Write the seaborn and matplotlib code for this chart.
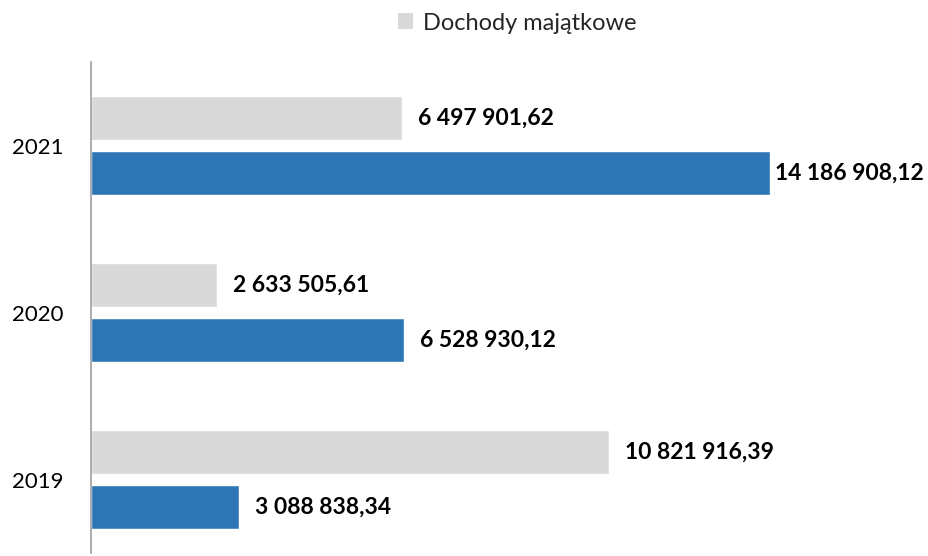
import matplotlib
matplotlib.use("Agg")
import matplotlib.pyplot as plt
import seaborn as sns
import pandas as pd
from matplotlib.patches import Patch

years = ["2021", "2020", "2019"]
series_names = ["Dochody majątkowe", "Dochody bieżące"]
majatkowe = [6497901.62, 2633505.61, 10821916.39]
biezace = [14186908.12, 6528930.12, 3088838.34]

df = pd.DataFrame({
    "rok": years * 2,
    "seria": [series_names[0]] * 3 + [series_names[1]] * 3,
    "wartosc": majatkowe + biezace,
})

sns.set_theme(style="white")
plt.rcParams["font.family"] = ["Lato", "DejaVu Sans"]

fig = plt.figure(figsize=(9.29, 5.56), dpi=100)
ax = fig.add_axes([91 / 929, 3 / 556, 838 / 929, 491 / 556])

colors = {series_names[0]: "#D9D9D9", series_names[1]: "#2E75B6"}
sns.barplot(data=df, y="rok", x="wartosc", hue="seria", order=years,
            hue_order=series_names, palette=colors, orient="h", saturation=1,
            width=0.665, gap=0.215, ax=ax, legend=False)

ax.set_xlim(0, 17.5e6)
ax.set_ylim(2.44, -0.5)

def fmt(v):
    s = f"{v:,.2f}"
    return s.replace(",", " ").replace(".", ",")

maxv = max(majatkowe + biezace)
for cont in ax.containers:
    for bar in cont:
        w = bar.get_width()
        yc = bar.get_y() + bar.get_height() / 2
        pad = 5 if w == maxv else 16
        ax.annotate(fmt(w), (w, yc), xytext=(pad, 0), textcoords="offset pixels",
                    va="center", ha="left", fontsize=16.5, fontweight="bold", color="black")

ax.set_xlabel("")
ax.set_ylabel("")
ax.set_xticks([])
ax.tick_params(axis="y", length=0, labelsize=16, pad=20, colors="black")
for s in ["top", "right", "bottom"]:
    ax.spines[s].set_visible(False)
ax.spines["left"].set_color("#A6A6A6")
ax.spines["left"].set_linewidth(1.3)

handles = [Patch(facecolor="#D9D9D9", edgecolor="none", label=series_names[0])]
fig.legend(handles=handles, loc="center", bbox_to_anchor=(517 / 929, 1 - 23 / 556),
           frameon=False, fontsize=17, handlelength=0.65, handleheight=0.65,
           handletextpad=0.4)

fig.savefig("out.png", dpi=100)
